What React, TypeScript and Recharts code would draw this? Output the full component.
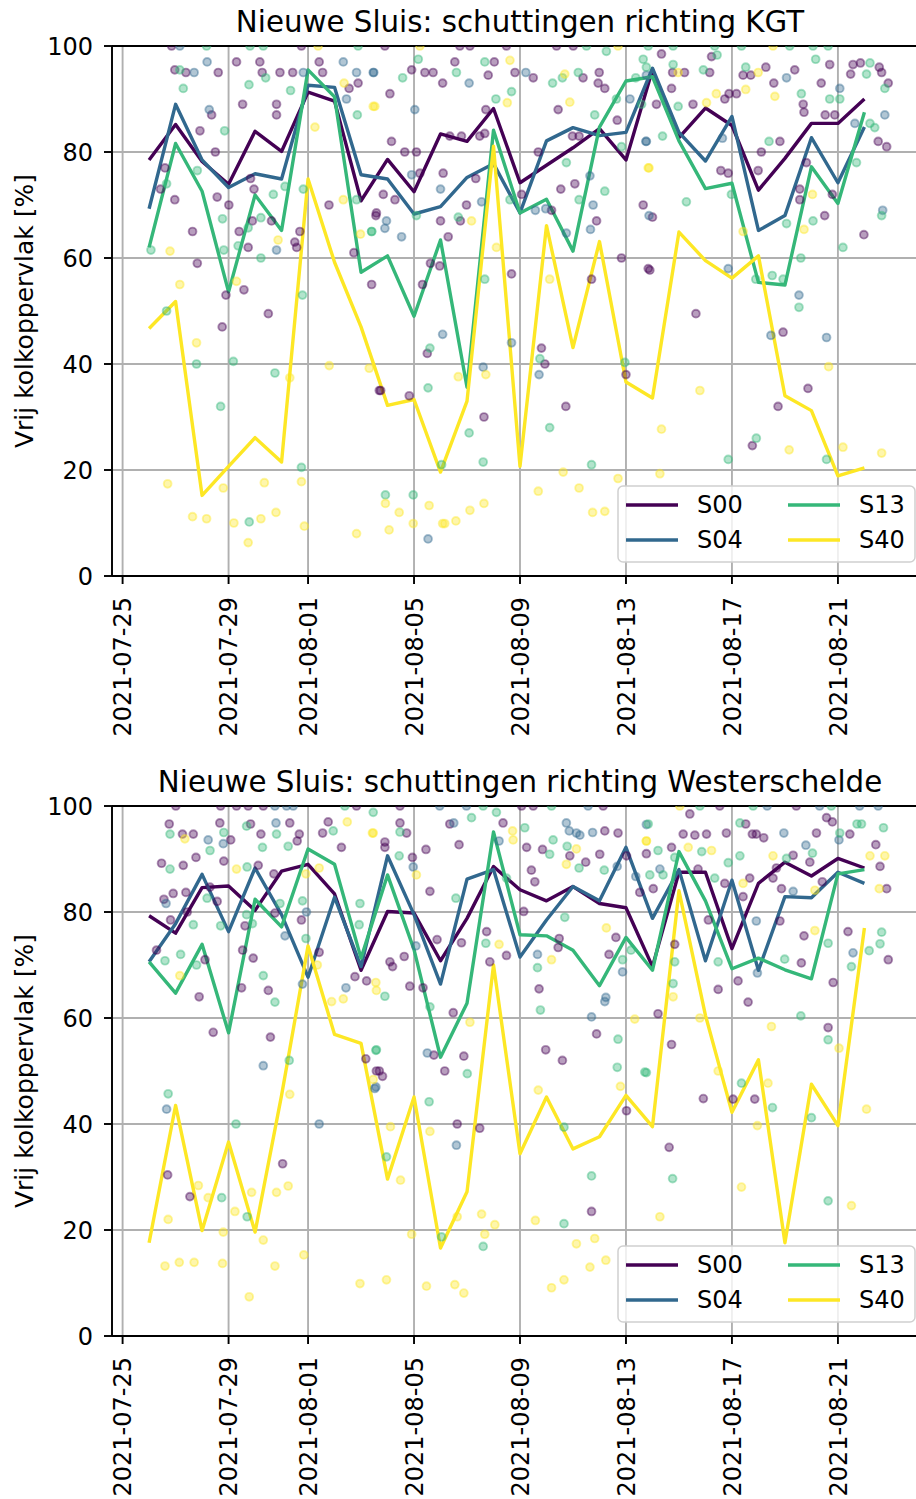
import { ComposedChart, Line, Scatter, XAxis, YAxis, CartesianGrid, Legend, ReferenceLine } from "recharts";

const FONT = '"DejaVu Sans", sans-serif';

// x values are days since 2021-07-25
const startDate = Date.UTC(2021, 6, 25);
const dayTicks = [0, 4, 7, 11, 15, 19, 23, 27];
const yTicks = [0, 20, 40, 60, 80, 100];
const days = [1, 2, 3, 4, 5, 6, 7, 8, 9, 10, 11, 12, 13, 14, 15, 16, 17, 18, 19, 20, 21, 22, 23, 24, 25, 26, 27, 28];

const seriesNames = ["S00", "S04", "S13", "S40"];
const seriesColors = ["#440154", "#31688e", "#35b779", "#fde725"];

// daily means, richting KGT
const kgtS00 = [78.5, 85.2, 78.2, 73.9, 83.9, 80.1, 91.3, 89.6, 70.8, 78.6, 72.5, 83.4, 82.0, 88.2, 74.2, 77.5, 80.8, 84.4, 78.5, 95.5, 82.7, 88.3, 85.0, 72.8, 78.8, 85.4, 85.4, 90.0];
const kgtS04 = [69.3, 89.0, 78.5, 73.3, 75.9, 74.9, 92.6, 92.2, 75.7, 74.9, 68.3, 69.7, 75.2, 77.8, 68.5, 82.1, 84.6, 83.1, 83.7, 95.8, 83.7, 78.3, 86.7, 65.2, 68.0, 82.7, 74.2, 84.7];
const kgtS13 = [62.0, 81.6, 72.6, 53.6, 71.9, 65.2, 95.5, 90.4, 57.3, 60.4, 49.0, 63.4, 35.6, 84.1, 68.5, 71.1, 61.3, 84.7, 93.4, 94.2, 82.1, 73.1, 74.1, 55.4, 54.9, 77.2, 70.3, 87.5];
const kgtS40 = [46.7, 51.8, 15.2, 20.7, 26.1, 21.5, 74.9, 59.2, 47.0, 32.2, 33.3, 19.6, 33.0, 81.1, 20.7, 66.1, 43.1, 63.1, 36.6, 33.6, 64.9, 59.5, 56.2, 60.4, 34.0, 31.2, 18.9, 20.4];

// daily means, richting Westerschelde
const wsS00 = [79.3, 76.0, 84.6, 84.9, 80.3, 87.7, 89.0, 83.4, 69.0, 80.1, 79.8, 70.8, 78.8, 88.6, 84.2, 82.1, 84.8, 81.6, 80.8, 69.7, 87.5, 87.5, 73.1, 85.4, 89.4, 86.8, 90.1, 88.3];
const wsS04 = [70.6, 77.8, 87.1, 76.3, 88.3, 79.5, 67.7, 82.8, 69.7, 90.6, 79.5, 66.4, 86.2, 88.0, 71.5, 78.5, 84.8, 82.1, 92.2, 78.8, 88.0, 70.8, 86.0, 69.0, 82.9, 82.7, 87.5, 85.4];
const wsS13 = [70.6, 64.7, 73.9, 57.2, 82.4, 77.2, 91.9, 89.0, 71.3, 87.0, 72.9, 52.6, 62.8, 95.1, 75.7, 75.5, 72.8, 66.1, 75.2, 69.0, 91.4, 82.1, 69.3, 71.3, 69.1, 67.4, 87.2, 88.0];
const wsS40 = [17.6, 43.5, 19.9, 36.6, 19.6, 45.4, 73.6, 56.9, 55.2, 29.6, 45.1, 16.6, 27.2, 70.0, 34.4, 45.1, 35.3, 37.6, 45.4, 39.5, 84.0, 60.5, 42.2, 52.1, 17.6, 47.5, 39.7, 77.0];

// individual lockages [day, value], richting KGT
const kgtS00Pts = [
  [1.85, 100], [6.75, 100], [1.97, 95.5], [2.39, 95], [3.61, 95], [4.3, 97], [5.18, 97], [5.27, 95], [5.94, 95], [6.42, 95],
  [7.42, 97], [7.55, 95], [8.55, 92], [8.89, 93], [4.53, 89], [5.81, 89], [5.81, 87], [3.36, 87], [2.92, 84], [3.5, 80],
  [1.6, 77], [1.43, 73], [1.97, 71], [3.57, 71.5], [4.01, 70], [4.83, 75], [4.96, 73], [7.79, 70], [4.9, 67], [5.62, 67],
  [2.64, 65], [4.4, 65], [6.69, 65], [9.56, 68], [4.74, 62], [6.5, 63], [6.57, 62], [8.73, 61], [2.82, 59], [4.58, 54],
  [3.9, 53], [9.4, 55], [5.5, 49.5], [3.76, 47], [9.69, 35],
  [9.9, 100], [12.73, 100], [14.49, 100], [16.38, 100], [17.01, 100], [13.11, 100], [10.09, 91], [10.91, 95.5], [11.41, 95], [11.72, 95],
  [12.08, 93], [12.54, 97], [13.8, 94.5], [14.03, 97], [13.71, 88], [14.81, 95], [15.5, 94], [16.44, 88], [17.38, 94], [17.99, 95],
  [17.95, 93], [18.2, 92], [18.67, 86], [10.15, 82], [10.65, 80], [11.09, 80], [12.35, 83], [12.79, 83], [13.48, 83], [13.67, 83.5],
  [15.69, 80], [16.98, 83], [17.23, 83], [17.89, 67], [9.84, 72], [10.28, 71], [9.58, 68.5], [11.22, 76], [12.1, 76], [12, 67],
  [12.75, 67], [12.98, 70], [13.33, 75], [12.29, 64], [11.32, 55], [11.97, 58.5], [11.62, 59], [14.68, 57], [15.06, 72], [16.19, 69],
  [16.54, 73], [17.07, 74], [17.7, 56], [18.83, 60], [19.84, 58], [11.5, 42], [15.81, 43], [15.94, 40], [19, 38], [9.74, 35],
  [10.82, 34], [13.64, 30], [16.73, 32],
  [20.34, 98.5], [20.76, 95], [21.21, 95], [22.16, 95], [22.23, 98], [23.42, 94.5], [23.71, 94.5], [24.28, 96], [24.58, 93], [25.37, 95.5],
  [25.69, 89], [25.72, 87.5], [26.37, 93], [26.69, 96.5], [27.48, 94.7], [27.57, 96.5], [27.85, 96.8], [28.56, 96], [28.65, 95], [28.9, 93],
  [20.15, 89], [20.72, 92], [21.53, 89], [22.73, 90], [22.89, 91], [23.17, 91], [26.52, 87], [26.88, 87], [24.81, 82], [24.11, 80],
  [25.81, 78], [28.52, 82], [28.84, 81], [22.58, 76.5], [22.86, 76], [23.99, 76.5], [25.56, 73], [25.56, 71], [26.5, 68], [26.79, 72],
  [19.65, 70], [20, 67.7], [27.98, 64.4], [19.9, 57.7], [21.64, 49.5], [24.93, 46], [25.87, 35.4], [24.74, 32], [23.77, 24.6],
];
const kgtS04Pts = [
  [2.16, 100], [2.7, 95], [3.19, 97], [6.82, 95], [8.33, 97], [8.83, 95], [9.46, 95], [8.45, 90], [3.27, 88], [5.81, 61.5],
  [9.48, 95], [11.03, 88], [13.08, 93], [15.22, 95], [19.15, 90], [19.77, 94.5], [17.64, 75.5], [17.76, 70], [17.66, 65.4], [19.75, 82],
  [9.96, 67], [9.9, 65.6], [10.53, 64], [10.91, 75.7], [12, 73], [13.55, 70.6], [15.58, 69], [15.97, 69.3], [16.75, 64.7], [12.08, 45.6],
  [14.68, 44], [15.72, 38], [13.61, 39.4], [11.53, 7],
  [25.06, 94], [27.07, 92], [28.77, 87], [27.64, 85.4], [19.77, 82], [22.64, 82.6], [19.87, 68], [28.69, 69], [22.86, 58], [25.53, 53],
  [24.47, 45.4], [26.57, 45],
];
const kgtS13Pts = [
  [3.17, 100], [4.81, 100], [5.31, 100], [8.89, 100], [2.16, 95.5], [5.4, 94], [4.77, 92.7], [2.29, 92], [6.34, 91.6], [3.85, 84],
  [8.86, 87], [2.82, 76.5], [1.66, 74], [5.69, 72], [6.13, 73.5], [6.82, 73], [8.83, 71], [3.77, 67.4], [5.22, 67.6], [4.74, 65.7],
  [9.4, 65], [1.07, 61.5], [3.82, 61.5], [4.36, 62.3], [5.22, 60], [6.79, 53], [1.66, 50], [2.79, 40], [4.18, 40.5], [5.75, 38.3],
  [3.7, 32], [6.75, 20.5], [4.78, 10.2],
  [17.51, 100], [18.26, 99], [10.57, 94], [11.16, 97.5], [12.6, 95], [13.67, 97], [14.09, 90], [14.68, 91.4], [16.23, 93], [16.6, 94],
  [17.2, 95], [18.64, 90], [17.82, 87], [19.37, 94], [19.59, 89], [16.75, 78], [18.2, 72.6], [18.83, 81], [9.4, 65], [11.09, 68],
  [12.67, 67.7], [13.67, 56], [14.62, 71], [17.23, 71], [11.6, 43], [15.75, 41], [18.96, 40.3], [11.53, 35.5], [16.12, 28], [13.08, 27],
  [13.61, 21.5], [12.04, 21], [17.7, 21], [9.92, 15.3], [10.97, 15.3],
  [19.84, 100], [20.78, 100], [22.35, 100], [23.36, 100], [25.18, 100], [26.06, 100], [26.63, 100], [19.65, 97.5], [19.77, 96], [20.78, 96.5],
  [21.92, 95.5], [22.44, 98.3], [23.52, 96], [26.16, 97.5], [25.62, 91], [26.69, 90], [27.07, 90], [28.21, 96.8], [28.08, 94.7], [28.77, 92],
  [20.97, 88.6], [28.21, 85.4], [28.39, 84.6], [20.38, 83], [24.4, 82], [27.7, 78], [21.28, 70.6], [22.98, 72], [26.06, 67], [25.06, 66.5],
  [28.65, 68], [27.19, 62], [25.6, 60], [23.9, 56], [24.52, 56.7], [24.93, 56], [25.53, 50.7], [23.92, 26], [22.86, 22], [26.57, 22],
];
const kgtS40Pts = [
  [7.38, 100], [8.36, 93], [9.46, 88.6], [7.26, 84.7], [8.33, 71], [5.87, 63.4], [8.98, 64.5], [1.79, 61.3], [2.16, 55], [4.3, 55.6],
  [2.79, 44], [7.8, 39.7], [6.31, 37.4], [9.31, 39.2], [1.7, 17.4], [3.8, 16.6], [5.35, 17.6], [6.75, 17.8], [2.64, 11.2], [3.17, 10.8],
  [4.2, 10], [5.22, 10.8], [5.79, 12], [6.86, 9.4], [4.74, 6.3], [8.83, 8],
  [11.22, 100], [18.7, 100], [9.52, 88.6], [14.62, 97.3], [14.52, 89.3], [16.69, 94.7], [16.88, 89.4], [19.87, 77], [13.17, 67], [14.11, 62],
  [16.12, 56], [12.67, 37.6], [13.71, 38], [16.63, 19.6], [18.7, 18.4], [9.92, 13.7], [10.44, 12], [10.06, 8.7], [10.97, 9.9], [11.57, 13.3],
  [12.08, 9.9], [12.16, 9.9], [12.58, 10.4], [13.11, 12.4], [13.64, 13.7], [15.69, 16], [17.23, 16.6], [17.74, 12], [18.2, 12.2],
  [24.55, 100], [20.97, 95], [23.99, 95], [22.41, 91], [23.52, 91.8], [24.62, 90.5], [22.04, 89.3], [19.84, 77], [26.04, 72], [25.72, 65.4],
  [23.42, 65], [26.65, 39.5], [21.79, 35], [20.34, 27.7], [25.16, 23.8], [27.19, 24.3], [28.65, 23.2], [20.28, 19.3],
];

// individual lockages [day, value], richting Westerschelde
const wsS00Pts = [
  [2.01, 100], [3.7, 100], [4.3, 100], [4.74, 100], [5.31, 100], [8.83, 100], [1.76, 96.6], [2.26, 94.7], [2.67, 94.7], [3.67, 96.8],
  [4.08, 93.6], [4.83, 96.6], [5.22, 94.7], [6.31, 96.8], [6.67, 94.7], [6.59, 93.4], [7.55, 94.9], [7.76, 97], [8.26, 92.2], [1.47, 89.2],
  [2.29, 88.8], [2.77, 90.3], [3.82, 89.6], [5.12, 88.8], [5.71, 87.2], [1.56, 82.4], [1.91, 83.5], [2.39, 83.7], [3.57, 82], [3.3, 84.7],
  [2.44, 80], [1.81, 78.5], [4.62, 77.4], [5.75, 79.8], [6.75, 78.5], [7.42, 72.4], [9.21, 67], [1.28, 72.8], [3.11, 71], [2.89, 64],
  [4.53, 72.8], [4.93, 71.3], [4.49, 65.7], [5.5, 65.2], [8.77, 67.8], [3.42, 57.3], [5.58, 56.4], [9.18, 52.3], [9.58, 50], [6.04, 32.5],
  [1.7, 30.4], [2.54, 26.3],
  [10.47, 100], [15.06, 100], [15.5, 100], [18.14, 100], [10.47, 96.8], [10.72, 94.9], [9.9, 93.2], [9.9, 92.2], [10.94, 90.3], [11.45, 91.8],
  [12.35, 96.6], [12.7, 92.7], [14.36, 96.8], [15.25, 92.2], [15.43, 87.9], [15.56, 85.7], [15.85, 91.8], [16.88, 90.6], [17.48, 89.4], [18.2, 95.3],
  [18.7, 94.9], [18.01, 90.9], [19.02, 90.6], [19.52, 83.7], [11.6, 83.9], [11.87, 74.8], [12.79, 74.2], [13.74, 76.3], [14.49, 71.8], [13.86, 70.6],
  [15.14, 80.1], [15.72, 65.5], [16.48, 75], [16.44, 73.3], [18.36, 72], [18.62, 75.2], [17.89, 57], [15.97, 54], [16.6, 52], [11.75, 53],
  [12.16, 50], [12.48, 61], [12.88, 52.8], [10.84, 66], [11.34, 65.7], [10.09, 70.6], [10.19, 69.7], [10.63, 71.6], [9.69, 50], [9.81, 49],
  [12.63, 40], [13.48, 39.2], [17.7, 23.5], [19.02, 42.5],
  [21.41, 98.5], [22.54, 100], [25.43, 100], [19.77, 91], [20.72, 92.2], [21.16, 94.7], [21.6, 94.5], [22.04, 94.7], [22.79, 94.9], [23.52, 96.6],
  [23.77, 94.7], [23.92, 94.7], [24.2, 94], [25.31, 90.7], [25.94, 89.4], [26.19, 94.9], [26.57, 97.8], [26.79, 97], [27.45, 94.7], [28.43, 92.7],
  [28.59, 88.6], [28.84, 84.4], [24.55, 86.4], [24.68, 88.3], [20.03, 84.4], [21.72, 88.1], [22.73, 85.4], [23.42, 82.9], [23.67, 86.4], [24.87, 84.4],
  [26.41, 85.7], [24.81, 78.3], [22.11, 78.5], [25.72, 75.5], [27.38, 76.3], [28.9, 71], [25.62, 70.4], [23.23, 67], [23.61, 63], [22.48, 65.4],
  [20.84, 73.9], [26.82, 66.7], [26.63, 58.2], [20.21, 60.8], [20.72, 55], [21.92, 44.8], [23.04, 44.7], [23.86, 44.7], [20.63, 35.6],
];
const wsS04Pts = [
  [5.75, 100], [6.19, 100], [6.44, 100], [3.23, 93.6], [3.8, 92.9], [5.79, 96.8], [1.64, 81.6], [6.94, 80], [6.13, 75.5], [6.79, 66.4],
  [8.43, 65.7], [5.31, 51], [9.56, 47], [1.66, 42.8], [7.42, 40],
  [11.97, 100], [12.98, 100], [17.57, 100], [10.97, 88.5], [12.5, 96.8], [14.21, 93.4], [16.75, 96.8], [16.86, 95.3], [17.13, 94.9], [17.26, 94.5],
  [17.74, 95], [18.67, 88.6], [19.37, 86.7], [19.77, 96.5], [11.07, 73.6], [15.66, 72], [18.87, 68.7], [18.24, 63.9], [18.2, 63.1], [17.7, 60.2],
  [11.5, 53.4], [9.52, 46.7], [12.6, 36],
  [24.33, 100], [26.31, 100], [27.82, 100], [28.52, 100], [24.96, 94.9], [25.79, 92.6], [27.04, 93.6], [20.28, 88.1], [25.31, 83.9], [23.92, 78.3],
  [27.57, 72.3], [23.96, 68.5],
];
const wsS13Pts = [
  [8.39, 100], [9.46, 98.8], [1.79, 94.7], [3.3, 91.6], [3.82, 95], [4.68, 96.2], [5.28, 92.2], [5.81, 94.7], [6.25, 92.4], [7.95, 95.3],
  [1.79, 88.1], [4.7, 88.5], [3.19, 82.6], [2.67, 77.6], [3.7, 77.4], [4.9, 77.8], [4.68, 79.5], [5.94, 81.6], [6.79, 82.1], [6.92, 75],
  [8.96, 81.6], [8.93, 77.6], [1.6, 70.8], [2.19, 72], [2.79, 70], [5.31, 68], [5.75, 63], [6.29, 52], [9.56, 53.9], [1.72, 45.7],
  [4.28, 40], [3.74, 26.1], [4.7, 22.5],
  [13.61, 100], [16.19, 100], [13.17, 97.8], [10.47, 95.1], [10.44, 90.6], [14.11, 98.8], [14.49, 86.4], [15.18, 95.9], [16.12, 90.9], [16.25, 93.6],
  [16.78, 92.4], [17.23, 88.3], [18.18, 87.9], [12.58, 82.6], [13.71, 74.1], [15.66, 69.5], [15.77, 61.5], [16.69, 79], [18.87, 71], [19.19, 72.8],
  [18.7, 56], [11.6, 62.1], [9.9, 64.1], [9.58, 54], [13.01, 49.5], [11.57, 44.2], [9.96, 33.8], [16.66, 39.4], [17.7, 30.2], [18.67, 50.7],
  [19.71, 49.8], [13.61, 16.9], [12.04, 18.7], [16.66, 21.2],
  [21.79, 100], [23.8, 100], [26.75, 100], [19.84, 96.6], [20.21, 91.6], [20.84, 90.3], [21.86, 91.4], [23.3, 96.8], [25.06, 90.1], [26.04, 91.1],
  [27.07, 94.9], [27.72, 96.6], [27.89, 96.6], [28.72, 95.9], [20.4, 87], [19.9, 87], [22.86, 89.3], [23.3, 90.6], [22.35, 86.4], [26.63, 74.1],
  [28.18, 72.7], [28.65, 76.2], [28.59, 74], [27.51, 69.7], [24.99, 71.1], [22.48, 70.6], [20.84, 70.6], [20.78, 66.5], [25.6, 60.4], [26.63, 55.9],
  [19.77, 49.7], [23.36, 47.7], [24.53, 43.1], [26, 41.2], [20.76, 29.7], [26.63, 25.5],
];
const wsS40Pts = [
  [9.43, 94.9], [8.48, 97], [2.35, 93.8], [4.3, 88.1], [6.92, 87.2], [7.42, 88.3], [2.16, 68], [7.35, 70], [9.56, 66.7], [7.89, 63.1],
  [8.33, 63.6], [6.31, 45.6], [2.86, 28.4], [3.23, 26.1], [4.87, 27.1], [5.81, 27.1], [6.25, 28.3], [4.24, 23.5], [1.72, 22], [3.8, 19.6],
  [5.31, 18.1], [1.6, 13.2], [2.14, 13.9], [2.7, 13.9], [3.77, 13.7], [5.75, 13.2], [6.84, 15.3], [4.78, 7.4], [8.96, 9.9],
  [9.46, 94.9], [11.09, 87], [14.72, 95.3], [14.74, 93.6], [17.13, 91.9], [16.75, 89], [19.77, 93.4], [14.21, 73.9], [16.19, 71], [18.26, 77],
  [13.11, 59.2], [9.58, 65.2], [19.33, 59.8], [9.46, 48.4], [11.6, 38.6], [10.11, 39.5], [10.49, 29.4], [18.79, 47.1], [15.69, 46.4], [12.63, 22.5],
  [13.55, 23], [14.05, 21], [13.67, 19.2], [10.91, 19.2], [15.58, 21.8], [17.13, 17.4], [17.82, 18.4], [17.64, 13], [18.24, 14.3], [9.96, 10.6],
  [11.47, 9.4], [12.54, 9.7], [12.88, 8.1], [16.19, 9.1], [16.66, 10.6],
  [21.03, 100], [19.77, 93.4], [21.35, 92.2], [22.23, 91.6], [28.21, 90.6], [28.77, 90.6], [28.56, 84.4], [24.55, 90.6], [23.42, 85.4], [26.13, 84.1],
  [26.13, 76.5], [20.78, 64], [27.04, 54.3], [24.49, 58.4], [21.79, 60], [22.48, 50], [24.36, 47.7], [28.08, 42.8], [23.96, 39.7], [23.36, 28.1],
  [20.28, 22.5], [27.51, 24.6],
];

const fmtDate = (d: number) => new Date(startDate + d * 86400000).toISOString().slice(0, 10);

function DateTick(props: any) {
  const { x, y, payload } = props;
  return (
    <text x={x} y={y} dy="0.36em" transform={`rotate(-90, ${x}, ${y})`} textAnchor="end" fontSize={24} fontFamily={FONT} fill="#000">
      {fmtDate(payload.value)}
    </text>
  );
}

function YLabel() {
  return (
    <text x={24} y={311} transform="rotate(-90, 24, 311)" textAnchor="middle" dominantBaseline="central" fontSize={25} fontFamily={FONT} fill="#000">
      Vrij kolkoppervlak [%]
    </text>
  );
}

function LegendBox() {
  return (
    <svg width={299} height={78} style={{ display: "block" }}>
      <rect x={1} y={1} width={297} height={76} rx={5} fill="#fff" fillOpacity={0.8} stroke="#d0d0d0" strokeWidth={1.5} />
      {seriesNames.map((name, i) => {
        const col = Math.floor(i / 2);
        const row = i % 2;
        const lx = 9 + col * 162;
        const ly = 20 + row * 35;
        return (
          <g key={name}>
            <line x1={lx} x2={lx + 52} y1={ly} y2={ly} stroke={seriesColors[i]} strokeWidth={3.4} />
            <text x={lx + 71} y={ly} dominantBaseline="central" fontSize={24} fontFamily={FONT} fill="#000">
              {name}
            </text>
          </g>
        );
      })}
    </svg>
  );
}

function Dot(color: string) {
  return (p: any) => (
    <circle cx={p.cx} cy={p.cy} r={3.9} fill={color} fillOpacity={0.38} stroke={color} strokeOpacity={0.42} strokeWidth={1.9} />
  );
}

function Panel({ top, title, lines, points }: { top: number; title: string; lines: number[][]; points: number[][][] }) {
  const rows = days.map((d, i) => {
    const r: any = { x: d };
    seriesNames.forEach((n, k) => (r[n] = lines[k][i]));
    return r;
  });
  return (
    <div style={{ position: "absolute", left: 0, top, width: 940, height: 746 }}>
      <div
        style={{
          position: "absolute",
          left: 112,
          width: 816,
          top: 5,
          textAlign: "center",
          fontSize: 29.3,
          fontFamily: FONT,
          color: "#000",
          whiteSpace: "nowrap",
        }}
      >
        {title}
      </div>
      <ComposedChart width={940} height={746} data={rows} margin={{ top: 46, right: 12, left: 0, bottom: 0 }}>
        <CartesianGrid stroke="#b0b0b0" strokeWidth={1.9} />
        <XAxis
          dataKey="x"
          type="number"
          domain={[-0.4, 30.4]}
          allowDataOverflow
          ticks={dayTicks}
          interval={0}
          height={170}
          tickSize={8}
          tickMargin={13}
          axisLine={{ stroke: "#000", strokeWidth: 1.9 }}
          tickLine={{ stroke: "#000", strokeWidth: 1.9 }}
          tick={<DateTick />}
        />
        <YAxis
          type="number"
          domain={[0, 100]}
          allowDataOverflow
          ticks={yTicks}
          interval={0}
          width={112}
          tickSize={8}
          tickMargin={11}
          axisLine={{ stroke: "#000", strokeWidth: 1.9 }}
          tickLine={{ stroke: "#000", strokeWidth: 1.9 }}
          tick={{ fill: "#000", fontSize: 24, fontFamily: FONT }}
          label={<YLabel />}
        />
        <ReferenceLine y={100} stroke="#000" strokeWidth={1.9} />
        {seriesNames.map((n, k) => (
          <Scatter
            key={"pts-" + n}
            name={n + " pts"}
            data={points[k].map(([x, y]) => ({ x, y }))}
            dataKey="y"
            shape={Dot(seriesColors[k])}
            isAnimationActive={false}
            legendType="none"
          />
        ))}
        {seriesNames.map((n, k) => (
          <Line
            key={n}
            type="linear"
            dataKey={n}
            stroke={seriesColors[k]}
            strokeWidth={3.4}
            strokeLinejoin="round"
            dot={false}
            activeDot={false}
            isAnimationActive={false}
          />
        ))}
        <Legend
          layout="horizontal"
          verticalAlign="middle"
          align="center"
          content={() => <LegendBox />}
          wrapperStyle={{ left: 617, top: 485, width: 299, height: 78 }}
        />
      </ComposedChart>
    </div>
  );
}

export default function App() {
  return (
    <div style={{ position: "absolute", left: 0, top: 0, width: 916, height: 1499, overflow: "hidden", background: "#fff" }}>
      <Panel
        top={0}
        title="Nieuwe Sluis: schuttingen richting KGT"
        lines={[kgtS00, kgtS04, kgtS13, kgtS40]}
        points={[kgtS00Pts, kgtS04Pts, kgtS13Pts, kgtS40Pts]}
      />
      <Panel
        top={760}
        title="Nieuwe Sluis: schuttingen richting Westerschelde"
        lines={[wsS00, wsS04, wsS13, wsS40]}
        points={[wsS00Pts, wsS04Pts, wsS13Pts, wsS40Pts]}
      />
    </div>
  );
}
